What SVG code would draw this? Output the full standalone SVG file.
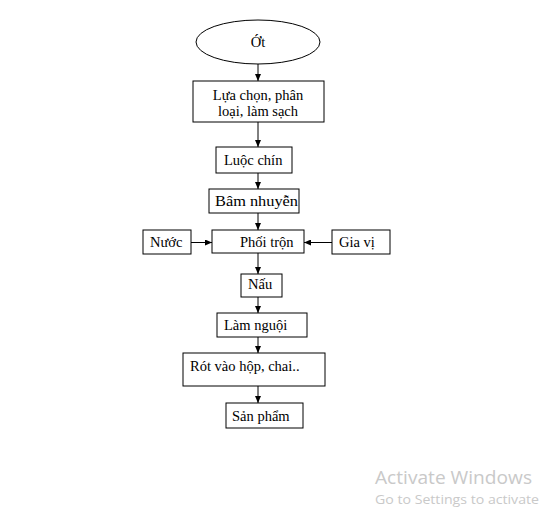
<svg xmlns="http://www.w3.org/2000/svg" width="549" height="520" viewBox="0 0 549 520">
<style>
.n{fill:#fff;stroke:#000;stroke-width:1}
.t{font-family:"Liberation Serif","Times New Roman",serif;font-size:14.5px;fill:#000}
.c line{stroke:#000;stroke-width:1;fill:none}
.w{font-family:"Open Sans","Noto Sans",sans-serif;fill:#c9c9c9}
</style>
<defs>
<marker id="a" markerWidth="7" markerHeight="6" refX="7" refY="3" orient="auto" markerUnits="userSpaceOnUse">
<path d="M0,0 L7,3 L0,6 Z" fill="#000"/>
</marker>
</defs>
<rect width="549" height="520" fill="#fff"/>
<g id="connectors" class="c">
<line x1="258" y1="64" x2="258" y2="81" marker-end="url(#a)"/>
<line x1="258" y1="122" x2="258" y2="147" marker-end="url(#a)"/>
<line x1="258" y1="173" x2="258" y2="189" marker-end="url(#a)"/>
<line x1="258" y1="213" x2="258" y2="230" marker-end="url(#a)"/>
<line x1="191" y1="242.5" x2="212" y2="242.5" marker-end="url(#a)"/>
<line x1="332" y1="242.5" x2="304" y2="242.5" marker-end="url(#a)"/>
<line x1="258" y1="253" x2="258" y2="274" marker-end="url(#a)"/>
<line x1="258" y1="297" x2="258" y2="313" marker-end="url(#a)"/>
<line x1="258" y1="337" x2="258" y2="353" marker-end="url(#a)"/>
<line x1="258" y1="386" x2="258" y2="403" marker-end="url(#a)"/>
</g>
<g id="ot"><ellipse class="n" cx="258" cy="42" rx="62" ry="22"/><text class="t" x="258" y="47" text-anchor="middle">Ớt</text></g>
<g id="luachon"><rect class="n" x="193" y="81" width="131" height="41"/><text class="t" x="258" y="100" text-anchor="middle">Lựa chọn, phân</text><text class="t" x="258" y="116" text-anchor="middle">loại, làm sạch</text></g>
<g id="luocchin"><rect class="n" x="216" y="147" width="76" height="26"/><text class="t" x="224" y="165">Luộc chín</text></g>
<g id="bamnhuyen"><rect class="n" x="209" y="189" width="90" height="24"/><text class="t" x="215" y="206" textLength="83" lengthAdjust="spacingAndGlyphs">Bâm nhuyễn</text></g>
<g id="phoitron"><rect class="n" x="212" y="230" width="92" height="23"/><text class="t" x="240" y="247">Phối trộn</text></g>
<g id="nuoc"><rect class="n" x="143" y="230" width="48" height="24"/><text class="t" x="150" y="247">Nước</text></g>
<g id="giavi"><rect class="n" x="332" y="230" width="58" height="24"/><text class="t" x="339" y="247">Gia vị</text></g>
<g id="nau"><rect class="n" x="241" y="274" width="41" height="23"/><text class="t" x="248" y="289">Nấu</text></g>
<g id="lamnguoi"><rect class="n" x="217" y="313" width="90" height="24"/><text class="t" x="224" y="330">Làm nguội</text></g>
<g id="rotvao"><rect class="n" x="183" y="353" width="142" height="33"/><text class="t" x="190" y="371">Rót vào hộp, chai..</text></g>
<g id="sanpham"><rect class="n" x="226" y="403" width="77" height="25"/><text class="t" x="232" y="421">Sản phẩm</text></g>
<text class="w" x="375" y="484" font-size="19" textLength="157" lengthAdjust="spacingAndGlyphs">Activate Windows</text>
<text class="w" x="375" y="504" font-size="13.5" textLength="164" lengthAdjust="spacingAndGlyphs">Go to Settings to activate</text>
</svg>
